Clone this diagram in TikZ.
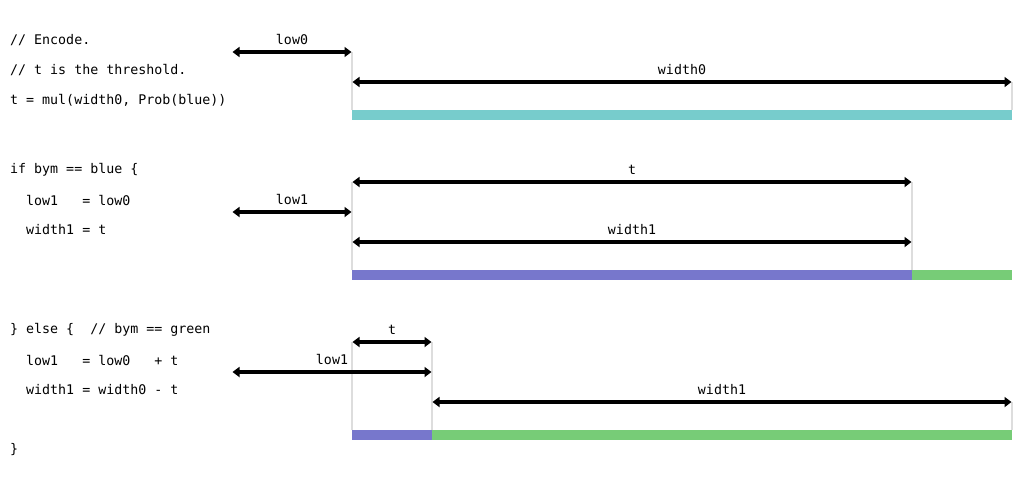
\documentclass[tikz,border=0pt]{standalone}
\usepackage{fontspec}
\setmainfont{DejaVu Sans Mono}
\usetikzlibrary{arrows.meta}
\definecolor{tealbar}{RGB}{119,204,204}
\definecolor{bluebar}{RGB}{119,119,204}
\definecolor{greenbar}{RGB}{119,204,119}
\definecolor{guidegray}{RGB}{221,221,221}

\begin{document}
\begin{tikzpicture}[
x=1pt, y=-1pt,
font=\fontsize{13.3}{15}\selectfont,
codeline/.style={anchor=west, inner sep=0pt},
span/.style={{Triangle[length=7pt,width=10pt]}-{Triangle[length=7pt,width=10pt]}, line width=4pt, shorten <=0.5pt, shorten >=0.5pt},
guide/.style={draw=guidegray, line width=2pt},
]
\useasboundingbox (0,0) rectangle (1024,480);
%Code
\node[codeline] at (10,40) (code1) {// Encode.};
\node[codeline] at (10,70) (code2) {// t is the threshold.};
\node[codeline] at (10,100) (code3) {t = mul(width0, Prob(blue))};
\node[codeline] at (10,170) (code4) {if bym == blue \{};
\node[codeline] at (10,200) (code5) {~~low1~~~= low0};
\node[codeline] at (10,230) (code6) {~~width1 = t};
\node[codeline] at (10,330) (code7) {\} else \{~~// bym == green};
\node[codeline] at (10,360) (code8) {~~low1~~~= low0~~~+ t};
\node[codeline] at (10,390) (code9) {~~width1 = width0 - t};
\node[codeline] at (10,450) (code10) {\}};
%Bars
\fill[tealbar] (352,110) rectangle (1012,120);
\fill[bluebar] (352,270) rectangle (912,280);
\fill[greenbar] (912,270) rectangle (1012,280);
\fill[bluebar] (352,430) rectangle (432,440);
\fill[greenbar] (432,430) rectangle (1012,440);
%Points
\coordinate (a0) at (232,52);
\coordinate (a1) at (352,52);
\coordinate (a2) at (352,82);
\coordinate (a3) at (1012,82);
\coordinate (a4) at (352,110);
\coordinate (a5) at (1012,110);
\coordinate (b0) at (352,182);
\coordinate (b1) at (912,182);
\coordinate (b2) at (232,212);
\coordinate (b3) at (352,212);
\coordinate (b4) at (352,242);
\coordinate (b5) at (912,242);
\coordinate (b6) at (352,270);
\coordinate (b7) at (912,270);
\coordinate (c0) at (352,342);
\coordinate (c1) at (432,342);
\coordinate (c2) at (232,372);
\coordinate (c3) at (432,372);
\coordinate (c4) at (432,402);
\coordinate (c5) at (1012,402);
\coordinate (c6) at (352,430);
\coordinate (c7) at (432,430);
\coordinate (c8) at (1012,430);
%Guides
\path[guide] (a1) -- (a4);
\path[guide] (a3) -- (a5);
\path[guide] (b0) -- (b6);
\path[guide] (b1) -- (b7);
\path[guide] (c0) -- (c6);
\path[guide] (c1) -- (c7);
\path[guide] (c5) -- (c8);
%Spans
\draw[span] (a0) -- node[above=2pt] {low0} (a1);
\draw[span] (a2) -- node[above=2pt] {width0} (a3);
\draw[span] (b0) -- node[above=2pt] {t} (b1);
\draw[span] (b2) -- node[above=2pt] {low1} (b3);
\draw[span] (b4) -- node[above=2pt] {width1} (b5);
\draw[span] (c0) -- node[above=2pt] {t} (c1);
\draw[span] (c2) -- node[above=2pt] {low1} (c3);
\draw[span] (c4) -- node[above=2pt] {width1} (c5);
\end{tikzpicture}
\end{document}
